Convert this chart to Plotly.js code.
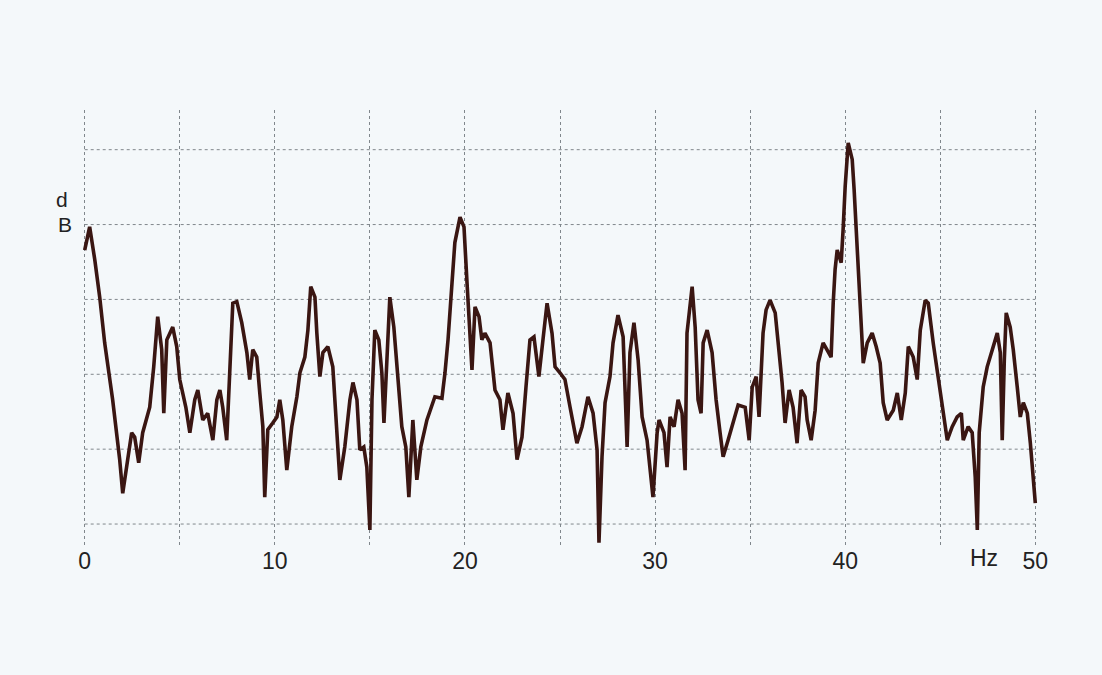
<!DOCTYPE html>
<html>
<head>
<meta charset="utf-8">
<script src="https://cdn.plot.ly/plotly-3.0.1.min.js"></script>
<style>
html,body{margin:0;padding:0;background:#f4f8fa;}
#chart{width:1102px;height:675px;}
</style>
</head>
<body>
<div id="chart"></div>
<script>
// Frequency (Hz)
const freqHz = [
0.00,0.26,0.53,0.79,1.05,1.47,1.84,2.00,2.26,2.47,2.63,2.84,3.05,3.42,3.63,3.84,4.05,4.16,4.32,4.63,
4.84,5.00,5.32,5.53,5.79,5.95,6.21,6.47,6.74,6.95,7.11,7.26,7.47,7.68,7.79,8.00,8.26,8.53,8.68,8.84,
9.05,9.21,9.37,9.47,9.63,9.89,10.11,10.26,10.42,10.63,10.89,11.16,11.32,11.58,11.74,11.89,12.11,12.21,12.37,12.53,
12.79,13.05,13.26,13.42,13.68,13.95,14.11,14.32,14.47,14.68,14.84,15.00,15.11,15.26,15.47,15.63,15.74,15.89,16.05,16.26,
16.47,16.68,16.89,17.05,17.26,17.47,17.68,18.00,18.42,18.79,18.95,19.11,19.32,19.47,19.74,19.95,20.11,20.26,20.37,20.53,
20.74,20.89,21.05,21.32,21.58,21.84,22.00,22.26,22.53,22.74,23.00,23.21,23.42,23.63,23.89,24.16,24.32,24.58,24.74,25.00,
25.26,25.53,25.89,26.16,26.47,26.74,26.95,27.05,27.21,27.37,27.63,27.79,28.05,28.32,28.42,28.53,28.68,28.89,29.11,29.32,
29.58,29.74,29.89,30.11,30.21,30.47,30.63,30.79,31.00,31.21,31.42,31.58,31.68,31.95,32.11,32.26,32.42,32.53,32.74,33.00,
33.21,33.42,33.58,33.84,34.11,34.37,34.74,34.95,35.11,35.32,35.47,35.68,35.84,36.05,36.32,36.47,36.68,36.84,37.05,37.26,
37.47,37.68,37.89,38.00,38.21,38.42,38.58,38.84,39.05,39.26,39.37,39.47,39.58,39.79,39.89,40.00,40.16,40.37,40.47,40.58,
40.68,40.79,40.95,41.16,41.42,41.63,41.84,42.00,42.21,42.53,42.74,42.95,43.16,43.32,43.58,43.79,43.95,44.21,44.37,44.63,
44.89,45.16,45.37,45.63,45.89,46.11,46.21,46.47,46.68,46.84,46.95,47.05,47.26,47.47,47.74,48.00,48.16,48.26,48.37,48.47,
48.68,48.84,49.05,49.21,49.37,49.58,49.74,49.89,50.00
];
// Level (dB, relative; grid every 10)
const levelDb = [
36.6,39.7,35.3,30.3,24.2,16.6,8.6,4.1,8.6,12.2,11.6,8.2,12.2,15.6,21.0,27.7,23.3,14.8,24.6,26.3,
23.7,19.3,15.6,12.2,16.6,17.9,13.9,14.8,11.2,16.6,17.9,15.6,11.2,24.2,29.5,29.7,26.9,22.9,19.3,23.3,
22.3,17.5,13.0,3.6,12.6,13.5,14.3,16.6,13.9,7.2,13.0,17.0,20.2,22.3,25.9,31.7,30.3,25.5,19.7,22.9,
23.7,21.0,13.0,5.9,10.3,16.6,18.9,16.6,9.9,10.3,7.6,-0.8,16.6,25.9,24.6,20.2,13.5,22.9,30.3,26.3,
20.2,13.0,10.3,3.6,13.9,5.9,10.3,13.9,17.0,16.8,20.2,24.6,32.2,37.6,41.0,39.7,32.2,24.6,20.6,29.0,
27.7,24.6,25.5,24.2,17.9,16.6,12.6,17.5,14.8,8.6,11.6,18.3,24.6,25.0,19.7,25.9,29.5,25.5,21.0,20.2,
19.3,15.6,10.8,13.0,17.0,14.8,9.9,-2.5,9.0,16.2,19.7,24.2,27.9,25.0,17.9,10.3,22.9,26.9,21.9,14.3,
11.2,7.2,3.6,12.2,13.9,12.2,7.6,14.3,13.0,16.6,14.8,7.2,25.5,31.7,26.3,16.6,14.8,24.2,25.9,22.9,
16.6,12.2,9.0,11.2,13.5,15.9,15.6,11.2,18.3,19.7,14.3,25.5,28.6,29.9,28.2,24.6,18.9,13.5,17.9,15.6,
10.8,17.9,17.0,13.9,11.2,15.2,21.5,24.2,23.3,22.3,29.5,34.0,36.6,34.9,39.3,45.1,50.9,48.7,44.7,39.3,
34.0,27.7,21.5,24.2,25.5,23.7,21.5,16.2,13.9,15.2,17.5,13.9,17.5,23.7,22.3,19.3,25.9,29.9,29.5,24.2,
19.7,15.6,11.2,13.0,14.3,14.8,11.2,13.0,12.2,6.3,-0.8,12.2,18.3,21.0,23.3,25.5,22.9,11.2,21.9,28.2,
26.3,23.3,18.3,14.3,16.2,14.8,10.8,6.8,2.8
];
const xTickVals = [0,5,10,15,20,25,30,35,40,45,50];
const xTickText = ['0','','10','','20','','30','','40','','50'];
const yTickVals = [0,10,20,30,40,50];
const xStart = 0, xEnd = 50;

const gridCol = '#80878c';

const trace = {
  x: freqHz, y: levelDb, type: 'scatter', mode: 'lines',
  line: {color: '#3a1612', width: 3.6, shape: 'linear'},
  hoverinfo: 'x+y'
};

// horizontal grid lines drawn only across the 0–50 Hz span, as in the reference
const hGrid = yTickVals.map(v => ({
  type: 'line', xref: 'x', yref: 'y', x0: xStart, x1: xEnd, y0: v, y1: v,
  line: {color: gridCol, width: 1, dash: 'dot'}, layer: 'below'
}));

const layout = {
  width: 1102, height: 675,
  margin: {l: 79, r: 61, t: 110, b: 130, pad: 0},
  paper_bgcolor: '#f4f8fa', plot_bgcolor: '#f4f8fa',
  showlegend: false,
  font: {family: 'Liberation Sans, Arial, sans-serif', color: '#222'},
  xaxis: {
    range: [-0.3, 50.3], tickvals: xTickVals, ticktext: xTickText,
    showgrid: true, gridcolor: gridCol, gridwidth: 1, griddash: 'dot',
    zeroline: false, showline: false, ticks: '',
    tickfont: {size: 23, color: '#222', family: 'Liberation Sans, Arial, sans-serif'},
    fixedrange: true
  },
  yaxis: {
    range: [-2.8, 55.3], tickvals: yTickVals, showticklabels: false,
    showgrid: false, zeroline: false, showline: false, ticks: '', fixedrange: true
  },
  shapes: hGrid,
  annotations: [
    {text: 'Hz', xref: 'x', yref: 'paper', x: 47.3, y: -0.03, xanchor: 'center', yanchor: 'middle',
     showarrow: false, font: {size: 23, color: '#222'}},
    {text: 'd', xref: 'paper', yref: 'paper', x: -0.018, y: 0.795, xanchor: 'center', yanchor: 'middle',
     showarrow: false, font: {size: 21, color: '#222'}},
    {text: 'B', xref: 'paper', yref: 'paper', x: -0.015, y: 0.737, xanchor: 'center', yanchor: 'middle',
     showarrow: false, font: {size: 21, color: '#222'}}
  ]
};

Plotly.newPlot('chart', [trace], layout, {displayModeBar: false, staticPlot: true});
</script>
</body>
</html>
